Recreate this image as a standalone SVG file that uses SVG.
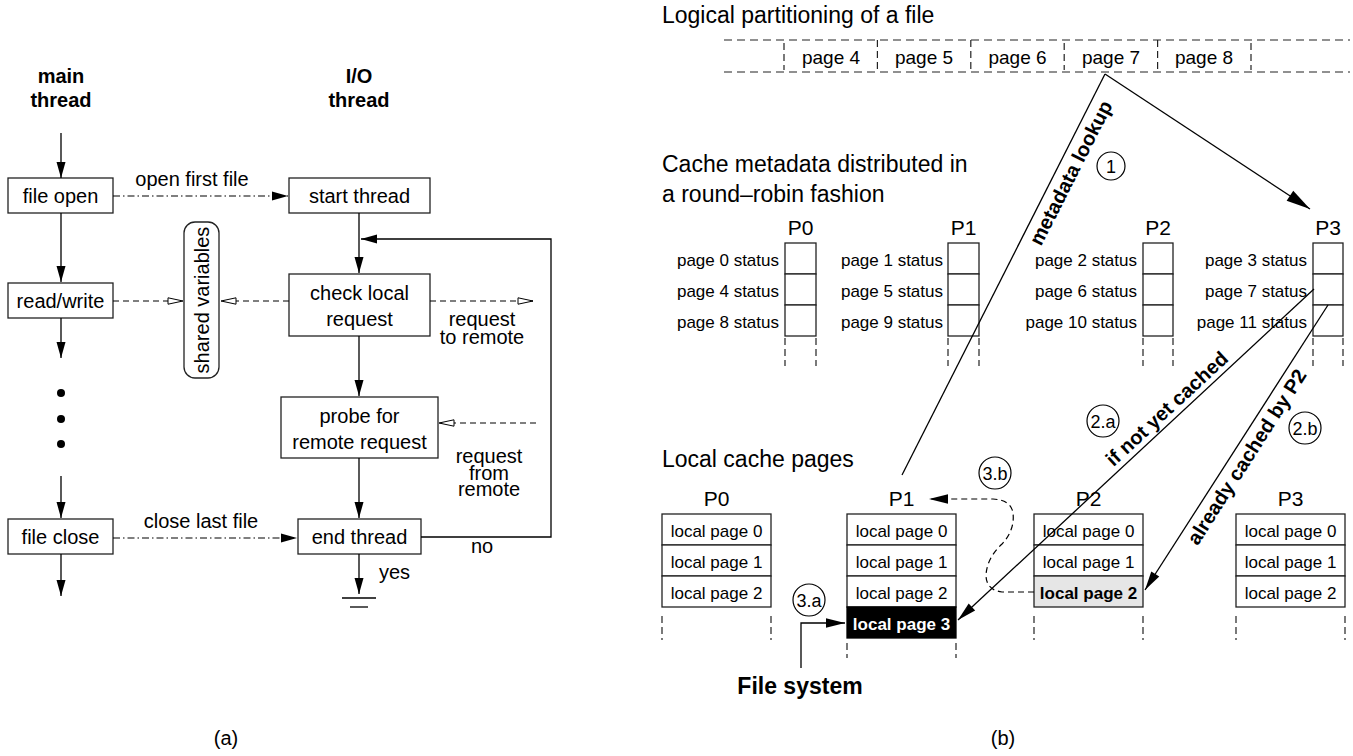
<svg xmlns="http://www.w3.org/2000/svg" width="1353" height="756" viewBox="0 0 1353 756">
<defs>
<style>
text{font-family:"Liberation Sans",Arial,Helvetica,sans-serif;fill:#000}
.t20{font-size:20px}
.b20{font-size:20px;font-weight:bold}
.c{text-anchor:middle}
.r{text-anchor:end}
.box{fill:#fff;stroke:#222;stroke-width:1.3}
.ln{fill:none;stroke:#000;stroke-width:1.3}
.dl{fill:none;stroke:#000;stroke-width:1.2;stroke-dasharray:6 4}
.dd{fill:none;stroke:#000;stroke-width:1.2;stroke-dasharray:7 3 1.5 3}
.rowd{fill:none;stroke:#222;stroke-width:1.2;stroke-dasharray:8 5}
.vd{fill:none;stroke:#222;stroke-width:1.2;stroke-dasharray:7 4}
.meta{font-size:17px}
.pl{font-size:21px;text-anchor:middle}
.ttl{font-size:23px}
.pg{font-size:19px;text-anchor:middle}
.circ{fill:#fff;stroke:#000;stroke-width:1.2}
.cl{font-size:18px;text-anchor:middle}
.rot{font-size:20px;font-weight:bold;text-anchor:middle}
.lp{font-size:17px;text-anchor:middle}
.lpb{font-size:17px;font-weight:bold;text-anchor:middle}
</style>
<marker id="af" markerUnits="userSpaceOnUse" markerWidth="17" markerHeight="10" refX="16" refY="4.5" orient="auto" overflow="visible"><path d="M0,0 L16,4.5 L0,9 Z" fill="#000"/></marker>
<marker id="ao" markerUnits="userSpaceOnUse" markerWidth="17" markerHeight="9" refX="16" refY="4" orient="auto" overflow="visible"><path d="M1,0.8 L16,4 L1,7.2 Z" fill="#fff" stroke="#000" stroke-width="1"/></marker>
<marker id="ab" markerUnits="userSpaceOnUse" markerWidth="25" markerHeight="13" refX="24" refY="6" orient="auto" overflow="visible"><path d="M0,0 L24,6 L0,12 Z" fill="#000"/></marker>
<marker id="am" markerUnits="userSpaceOnUse" markerWidth="20" markerHeight="10" refX="19" refY="4.75" orient="auto" overflow="visible"><path d="M0,0 L19,4.75 L0,9.5 Z" fill="#000"/></marker>
</defs>
<rect width="1353" height="756" fill="#fff"/>

<!-- ===== (a) ===== -->
<g id="label-main"><text class="b20 c" x="61" y="83">main</text><text class="b20 c" x="61" y="107">thread</text></g>
<g id="label-io"><text class="b20 c" x="359" y="83">I/O</text><text class="b20 c" x="359" y="107">thread</text></g>

<g id="file-open"><rect class="box" x="8" y="178" width="105" height="35"/><text class="t20 c" x="60.5" y="203">file open</text></g>
<g id="read-write"><rect class="box" x="8" y="283" width="105" height="35"/><text class="t20 c" x="60.5" y="308">read/write</text></g>
<g id="file-close"><rect class="box" x="8" y="519" width="105" height="35"/><text class="t20 c" x="60.5" y="544">file close</text></g>
<g id="dots"><circle cx="61" cy="393" r="4"/><circle cx="61" cy="419" r="4"/><circle cx="61" cy="444" r="4"/></g>

<g id="start-thread"><rect class="box" x="289" y="178" width="141" height="35"/><text class="t20 c" x="359.5" y="203">start thread</text></g>
<g id="check-local"><rect class="box" x="289" y="274" width="141" height="62"/><text class="t20 c" x="359.5" y="300">check local</text><text class="t20 c" x="359.5" y="326">request</text></g>
<g id="probe"><rect class="box" x="281" y="397" width="157" height="61"/><text class="t20 c" x="359.5" y="423">probe for</text><text class="t20 c" x="359.5" y="449">remote request</text></g>
<g id="end-thread"><rect class="box" x="298" y="519" width="123" height="35"/><text class="t20 c" x="359.5" y="544">end thread</text></g>
<g id="shared-variables"><rect class="box" x="184" y="222" width="35" height="156" rx="11"/><text class="t20 c" transform="translate(201.5,300) rotate(-90)" y="7">shared variables</text></g>
<g id="ground"><line class="ln" x1="342" y1="598" x2="376" y2="598"/><line class="ln" x1="350" y1="607" x2="368" y2="607"/></g>

<g id="connectors-a">
<line class="ln" x1="61" y1="133" x2="61" y2="178" marker-end="url(#af)"/>
<line class="ln" x1="61" y1="213" x2="61" y2="282" marker-end="url(#af)"/>
<line class="ln" x1="61" y1="318" x2="61" y2="358" marker-end="url(#af)"/>
<line class="ln" x1="61" y1="476" x2="61" y2="518" marker-end="url(#af)"/>
<line class="ln" x1="61" y1="554" x2="61" y2="596" marker-end="url(#af)"/>
<line class="ln" x1="359" y1="213" x2="359" y2="273" marker-end="url(#af)"/>
<line class="ln" x1="359" y1="336" x2="359" y2="396" marker-end="url(#af)"/>
<line class="ln" x1="359" y1="458" x2="359" y2="518" marker-end="url(#af)"/>
<line class="ln" x1="359" y1="554" x2="359" y2="594" marker-end="url(#af)"/>
<polyline class="ln" points="421,537 551,537 551,239 361,239" marker-end="url(#af)"/>
<line class="dd" x1="113" y1="196" x2="288" y2="196" marker-end="url(#af)"/>
<line class="dd" x1="113" y1="538" x2="297" y2="538" marker-end="url(#af)"/>
<line class="dl" x1="113" y1="301" x2="183" y2="301" marker-end="url(#ao)"/>
<line class="dl" x1="289" y1="301" x2="221" y2="301" marker-end="url(#ao)"/>
<line class="dl" x1="430" y1="301" x2="533" y2="301" marker-end="url(#ao)"/>
<line class="dl" x1="536" y1="423" x2="439" y2="423" marker-end="url(#ao)"/>
</g>
<g id="labels-a">
<text class="t20 c" x="192" y="186">open first file</text>
<text class="t20 c" x="201" y="528">close last file</text>
<text class="t20 c" x="482" y="326">request</text>
<text class="t20 c" x="482" y="344">to remote</text>
<text class="t20 c" x="489" y="463">request</text>
<text class="t20 c" x="489" y="480">from</text>
<text class="t20 c" x="489" y="496">remote</text>
<text class="t20 c" x="482" y="553">no</text>
<text class="t20" x="379" y="579">yes</text>
<text class="t20 c" x="226" y="745">(a)</text>
</g>

<!-- ===== (b) ===== -->
<g id="file-partition">
<text class="ttl" x="662" y="23">Logical partitioning of a file</text>
<line class="rowd" x1="724" y1="40" x2="1350" y2="40"/>
<line class="rowd" x1="724" y1="72" x2="1350" y2="72"/>
<g class="vd">
<line x1="784" y1="43" x2="784" y2="70"/><line x1="877.4" y1="40" x2="877.4" y2="72"/><line x1="970.8" y1="40" x2="970.8" y2="72"/><line x1="1064.2" y1="43" x2="1064.2" y2="70"/><line x1="1157.6" y1="40" x2="1157.6" y2="72"/><line x1="1251" y1="43" x2="1251" y2="70"/>
</g>
<text class="pg" x="831" y="64">page 4</text>
<text class="pg" x="924" y="64">page 5</text>
<text class="pg" x="1017.5" y="64">page 6</text>
<text class="pg" x="1111" y="64">page 7</text>
<text class="pg" x="1204" y="64">page 8</text>
</g>

<text class="ttl" x="662" y="172">Cache metadata distributed in</text>
<text class="ttl" x="662" y="202">a round–robin fashion</text>

<g id="meta-p0">
<text class="pl" x="800.5" y="235">P0</text>
<rect class="box" x="785" y="243" width="31" height="31"/><rect class="box" x="785" y="274" width="31" height="31"/><rect class="box" x="785" y="305" width="31" height="31"/>
<line class="vd" x1="785" y1="338" x2="785" y2="366"/><line class="vd" x1="816" y1="338" x2="816" y2="366"/>
<text class="meta r" x="779" y="265.5">page 0 status</text><text class="meta r" x="779" y="296.5">page 4 status</text><text class="meta r" x="779" y="327.5">page 8 status</text>
</g>
<g id="meta-p1">
<text class="pl" x="963.5" y="235">P1</text>
<rect class="box" x="948" y="243" width="31" height="31"/><rect class="box" x="948" y="274" width="31" height="31"/><rect class="box" x="948" y="305" width="31" height="31"/>
<line class="vd" x1="948" y1="338" x2="948" y2="366"/><line class="vd" x1="979" y1="338" x2="979" y2="366"/>
<text class="meta r" x="943" y="265.5">page 1 status</text><text class="meta r" x="943" y="296.5">page 5 status</text><text class="meta r" x="943" y="327.5">page 9 status</text>
</g>
<g id="meta-p2">
<text class="pl" x="1158" y="235">P2</text>
<rect class="box" x="1143" y="243" width="30" height="31"/><rect class="box" x="1143" y="274" width="30" height="31"/><rect class="box" x="1143" y="305" width="30" height="31"/>
<line class="vd" x1="1143" y1="338" x2="1143" y2="366"/><line class="vd" x1="1173" y1="338" x2="1173" y2="366"/>
<text class="meta r" x="1137" y="265.5">page 2 status</text><text class="meta r" x="1137" y="296.5">page 6 status</text><text class="meta r" x="1137" y="327.5">page 10 status</text>
</g>
<g id="meta-p3">
<text class="pl" x="1328" y="235">P3</text>
<rect class="box" x="1313" y="243" width="30" height="31"/><rect class="box" x="1313" y="274" width="30" height="31"/><rect class="box" x="1313" y="305" width="30" height="31"/>
<line class="vd" x1="1313" y1="338" x2="1313" y2="366"/><line class="vd" x1="1343" y1="338" x2="1343" y2="366"/>
<text class="meta r" x="1307" y="265.5">page 3 status</text><text class="meta r" x="1307" y="296.5">page 7 status</text><text class="meta r" x="1307" y="327.5">page 11 status</text>
</g>

<text class="ttl" x="662" y="467">Local cache pages</text>

<g id="local-p0">
<text class="pl" x="716.5" y="506">P0</text>
<rect class="box" x="662" y="514" width="109" height="31"/><rect class="box" x="662" y="545" width="109" height="31"/><rect class="box" x="662" y="576" width="109" height="31"/>
<text class="lp" x="716.5" y="536.5">local page 0</text><text class="lp" x="716.5" y="567.5">local page 1</text><text class="lp" x="716.5" y="598.5">local page 2</text>
<line class="vd" x1="662" y1="616" x2="662" y2="640"/><line class="vd" x1="771" y1="616" x2="771" y2="640"/>
</g>
<g id="local-p1">
<text class="pl" x="901.5" y="506">P1</text>
<rect class="box" x="847" y="514" width="109" height="31"/><rect class="box" x="847" y="545" width="109" height="31"/><rect class="box" x="847" y="576" width="109" height="31"/>
<rect x="847" y="607" width="109" height="31" fill="#000" stroke="#000" stroke-width="1.3"/>
<text class="lp" x="901.5" y="536.5">local page 0</text><text class="lp" x="901.5" y="567.5">local page 1</text><text class="lp" x="901.5" y="598.5">local page 2</text>
<text class="lpb" x="901.5" y="629.5" style="fill:#fff">local page 3</text>
<line class="vd" x1="847" y1="643" x2="847" y2="658"/><line class="vd" x1="956" y1="643" x2="956" y2="658"/>
</g>
<g id="local-p2">
<text class="pl" x="1088.5" y="506">P2</text>
<rect class="box" x="1034" y="514" width="109" height="31"/><rect class="box" x="1034" y="545" width="109" height="31"/><rect x="1034" y="576" width="109" height="31" fill="#e6e6e6" stroke="#222" stroke-width="1.3"/>
<text class="lp" x="1088.5" y="536.5">local page 0</text><text class="lp" x="1088.5" y="567.5">local page 1</text><text class="lpb" x="1088.5" y="598.5">local page 2</text>
<line class="vd" x1="1034" y1="616" x2="1034" y2="640"/><line class="vd" x1="1143" y1="616" x2="1143" y2="640"/>
</g>
<g id="local-p3">
<text class="pl" x="1290.5" y="506">P3</text>
<rect class="box" x="1236" y="514" width="109" height="31"/><rect class="box" x="1236" y="545" width="109" height="31"/><rect class="box" x="1236" y="576" width="109" height="31"/>
<text class="lp" x="1290.5" y="536.5">local page 0</text><text class="lp" x="1290.5" y="567.5">local page 1</text><text class="lp" x="1290.5" y="598.5">local page 2</text>
<line class="vd" x1="1236" y1="616" x2="1236" y2="640"/><line class="vd" x1="1345" y1="616" x2="1345" y2="640"/>
</g>

<g id="file-system"><text x="800" y="694" class="c" style="font-size:23px;font-weight:bold">File system</text></g>

<g id="step-markers">
<circle class="circ" cx="1111" cy="166" r="14"/><text class="cl" x="1111" y="172.5">1</text>
<circle class="circ" cx="1103" cy="421" r="16"/><text class="cl" x="1103" y="427.5">2.a</text>
<circle class="circ" cx="1305" cy="428" r="16"/><text class="cl" x="1305" y="434.5">2.b</text>
<circle class="circ" cx="809" cy="600" r="16"/><text class="cl" x="809" y="606.5">3.a</text>
<circle class="circ" cx="995" cy="473" r="16"/><text class="cl" x="995" y="479.5">3.b</text>
</g>

<g id="connectors-b">
<line class="ln" x1="1105" y1="74" x2="902" y2="475" stroke-width="1.5"/>
<line class="ln" x1="1105" y1="74" x2="1310" y2="209" stroke-width="1.5" marker-end="url(#ab)"/>
<line class="ln" x1="1314" y1="289" x2="958" y2="620" stroke-width="1.5" marker-end="url(#am)"/>
<line class="ln" x1="1328" y1="305" x2="1145" y2="590" stroke-width="1.5" marker-end="url(#am)"/>
<path class="dl" d="M1034,592 L1002,592 Q986,590 986,575 Q987,558 1002,544 Q1015,530 1013,513 Q1011,500 993,499 L929,499" marker-end="url(#am)"/>
<polyline class="ln" points="801,668 801,623 845,623" stroke-width="1.5" marker-end="url(#am)"/>
</g>
<g id="labels-b">
<text class="rot" transform="translate(1077,176) rotate(-63.1)">metadata lookup</text>
<text class="rot" transform="translate(1171.4,413.8) rotate(-42.7)">if not yet cached</text>
<text class="rot" transform="translate(1252.5,460.5) rotate(-57.4)">already cached by P2</text>
<text class="t20 c" x="1003" y="745">(b)</text>
</g>
</svg>
